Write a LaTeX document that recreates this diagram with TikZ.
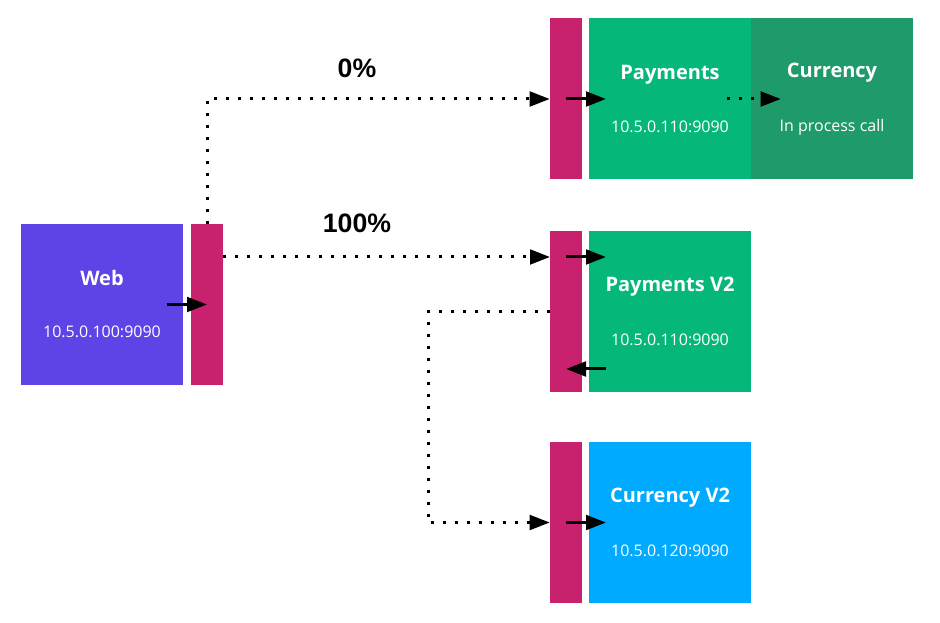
\documentclass[tikz,border=0pt]{standalone}
\usepackage{fontspec}
\setmainfont{Open Sans}
\newfontfamily\pctfont{Liberation Sans}
\usetikzlibrary{arrows.meta}

\definecolor{webcol}{HTML}{5E43E6}
\definecolor{sidecol}{HTML}{C8226E}
\definecolor{paycol}{HTML}{05B87A}
\definecolor{curcol}{HTML}{1F9A6B}
\definecolor{curvcol}{HTML}{00AAFF}

\begin{document}
\begin{tikzpicture}[x=0.75pt, y=-0.75pt,
                    service/.style={rectangle, text=white, align=center,
                                    minimum width=121.5pt, minimum height=120.75pt, inner sep=0pt},
                    sidecar/.style={rectangle, fill=sidecol,
                                    minimum width=24pt, minimum height=120.75pt, inner sep=0pt},
                    pct/.style={font=\pctfont\bfseries\fontsize{20}{24}\selectfont},
                    arr/.style={line width=2.25pt, -{Triangle[length=15pt,width=11pt]}},
                    dotarr/.style={arr, dash pattern=on 2.25pt off 6.75pt}]

  \useasboundingbox (0,0) rectangle (940,623);

  \newcommand{\svc}[2]{{\bfseries\fontsize{15}{18}\selectfont #1}\\[27pt]{\fontsize{12}{14}\selectfont #2}}

  \node[service, fill=webcol] (web) at (102,304.5) {\svc{Web}{10.5.0.100:9090}};
  \node[sidecar] (websc) at (207,304.5) {};
  \node[sidecar] (paysc) at (566,99) {};
  \node[service, fill=paycol] (pay) at (670,99) {\svc{Payments}{10.5.0.110:9090}};
  \node[service, fill=curcol] (cur) at (832,99) {\svc{Currency}{In process call}};
  \node[sidecar] (payvsc) at (566,311.5) {};
  \node[service, fill=paycol] (payv) at (670,311.5) {\svc{Payments V2}{10.5.0.110:9090}};
  \node[sidecar] (curvsc) at (566,522.5) {};
  \node[service, fill=curvcol] (curv) at (670,522.5) {\svc{Currency V2}{10.5.0.120:9090}};

  \node[pct] (p0) at (357,68) {0\%};
  \node[pct] (p100) at (357,223) {100\%};

  \coordinate (v2in) at (550,257);
  \coordinate (v2out) at (566,369);
  \coordinate (bend) at (428,416);

  % traffic split
  \draw[dotarr] (websc.north) |- (paysc.west);
  \draw[dotarr] (websc.east |- v2in) -- (v2in);
  \draw[dotarr] ([xshift=-18pt]pay.east) -- ([xshift=22.5pt]cur.west);
  \draw[dotarr] (payvsc.west) -| (bend) |- (curvsc.west);

  % sidecar hops
  \draw[arr] ([xshift=-30pt]websc.center) -- (websc.center);
  \draw[arr] (paysc.center) -- ([xshift=30pt]paysc.center);
  \draw[arr] (payvsc.center |- v2in) -- ([xshift=30pt]payvsc.center |- v2in);
  \draw[arr] ([xshift=30pt]v2out) -- (v2out);
  \draw[arr] (curvsc.center) -- ([xshift=30pt]curvsc.center);

\end{tikzpicture}
\end{document}
